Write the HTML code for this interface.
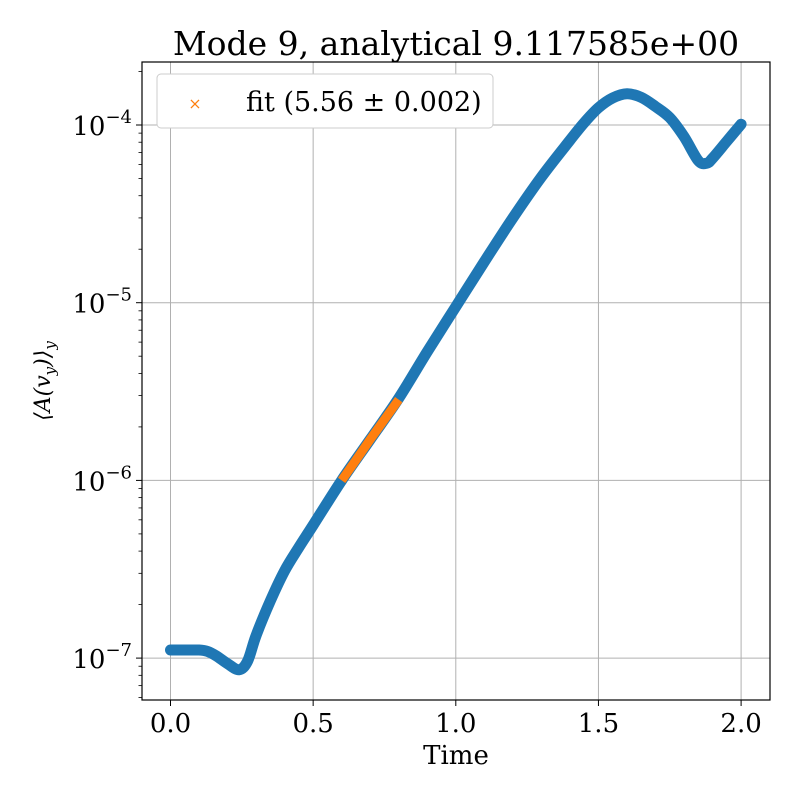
<!DOCTYPE html>
<html><head><meta charset="utf-8"><style>
body{margin:0;background:#fff}
svg text{font-family:"DejaVu Serif","Liberation Serif",serif;fill:#000}
</style></head><body>
<svg id="c" width="800" height="800" xmlns="http://www.w3.org/2000/svg">
<rect width="800" height="800" fill="#fff"/>
<g id="grid"></g><g id="series"></g><g id="axes"></g>
<text x="456" y="55" font-size="33" text-anchor="middle">Mode 9, analytical 9.117585e+00</text>
<text x="456" y="764" font-size="26" text-anchor="middle">Time</text>
<text transform="translate(50,381) rotate(-90)" font-size="22" text-anchor="middle" font-style="italic">⟨A(v<tspan font-size="15" dy="5">y</tspan><tspan dy="-5">)⟩</tspan><tspan font-size="15" dy="5">y</tspan></text>
<g>
<rect x="157" y="74" width="336" height="54" rx="4" fill="#fff" stroke="#ccc" stroke-width="1"/>
<text x="195" y="109" font-size="16" text-anchor="middle" style="fill:#ff7f0e">×</text>
<text x="246" y="111" font-size="27">fit (5.56 ± 0.002)</text>
</g>
</svg>
<script>
const times=[0,0.05,0.1,0.13,0.16,0.2,0.24,0.27,0.3,0.35,0.4,0.45,0.5,0.6,0.7,0.8,0.9,1.0,1.1,1.2,1.3,1.4,1.45,1.5,1.55,1.6,1.65,1.7,1.75,1.8,1.85,1.88,1.9,1.95,2.0];
const values=[1.11e-7,1.11e-7,1.11e-7,1.09e-7,1.03e-7,9.3e-8,8.6e-8,9.6e-8,1.34e-7,2.1e-7,3.1e-7,4.2e-7,5.6e-7,1.0e-6,1.7e-6,2.9e-6,5.3e-6,9.5e-6,1.7e-5,3.0e-5,5.1e-5,8.2e-5,1.03e-4,1.25e-4,1.42e-4,1.5e-4,1.43e-4,1.27e-4,1.1e-4,8.6e-5,6.3e-5,6.1e-5,6.5e-5,8.1e-5,1.01e-4];
const fitTimes=[0.6,0.65,0.7,0.75,0.8];
const fitValues=[1.0e-6,1.3e-6,1.7e-6,2.2e-6,2.85e-6];
const xTicks=[0,0.5,1.0,1.5,2.0];
const xTickLabels=["0.0","0.5","1.0","1.5","2.0"];
const yTicks=[-7,-6,-5,-4];
const L=142,R=770,T=62,B=700;
const X=t=>170.5+t*285.3;
const Y=v=>125-(Math.log10(v)+4)*177.7;
const NS="http://www.w3.org/2000/svg";
function mk(tag,attrs,parent){const e=document.createElementNS(NS,tag);for(const k in attrs)e.setAttribute(k,attrs[k]);parent.appendChild(e);return e;}
const grid=document.getElementById('grid'),ser=document.getElementById('series'),ax=document.getElementById('axes');
xTicks.forEach((t,i)=>{
 const g=mk('line',{x1:X(t),x2:X(t),y1:T,y2:B,stroke:'#b0b0b0','stroke-width':1},grid);
 
 
 mk('line',{x1:X(t),x2:X(t),y1:B,y2:B+6,stroke:'#000','stroke-width':1},ax);
 const tx=mk('text',{x:X(t),y:B+32,'font-size':26,'text-anchor':'middle'},ax);tx.textContent=xTickLabels[i];
 
 
});
yTicks.forEach(p=>{
 const y=Y(Math.pow(10,p));
 const g=mk('line',{x1:L,x2:R,y1:y,y2:y,stroke:'#b0b0b0','stroke-width':1},grid);
 
 
 mk('line',{x1:L-6,x2:L,y1:y,y2:y,stroke:'#000','stroke-width':1},ax);
 const tx=mk('text',{x:L-10,y:y+10,'font-size':26,'text-anchor':'end'},ax);
 
 
 tx.innerHTML='10<tspan font-size="18" dy="-12">−'+(-p)+'</tspan>';
 for(let m=2;m<10;m++){const v=m*Math.pow(10,p);const yy=Y(v);if(yy>T&&yy<B)mk('line',{x1:L-3.5,x2:L,y1:yy,y2:yy,stroke:'#000','stroke-width':0.8},ax);}
 if(p===-7){for(let m=6;m<10;m++){const yy=Y(m*1e-8);if(yy<B)mk('line',{x1:L-3.5,x2:L,y1:yy,y2:yy,stroke:'#000','stroke-width':0.8},ax);}}
});
mk('rect',{x:L,y:T,width:R-L,height:B-T,fill:'none',stroke:'#000','stroke-width':1.2},ax);
const pts=times.map((t,i)=>[X(t),Y(values[i])]);
let d='M'+pts[0][0]+','+pts[0][1];
for(let i=0;i<pts.length-1;i++){const p0=pts[Math.max(0,i-1)],p1=pts[i],p2=pts[i+1],p3=pts[Math.min(pts.length-1,i+2)];
 d+=' C'+(p1[0]+(p2[0]-p0[0])/6)+','+(p1[1]+(p2[1]-p0[1])/6)+' '+(p2[0]-(p3[0]-p1[0])/6)+','+(p2[1]-(p3[1]-p1[1])/6)+' '+p2[0]+','+p2[1];}
const line=mk('path',{d:d,fill:'none',stroke:'#1f77b4','stroke-width':11,'stroke-linecap':'round','stroke-linejoin':'round'},ser);


const fp=fitTimes.map((t,i)=>X(t)+','+Y(fitValues[i])).join(' ');
const fl=mk('polyline',{points:fp,fill:'none',stroke:'#ff7f0e','stroke-width':9,'stroke-linecap':'butt'},ser);


</script>
</body></html>
